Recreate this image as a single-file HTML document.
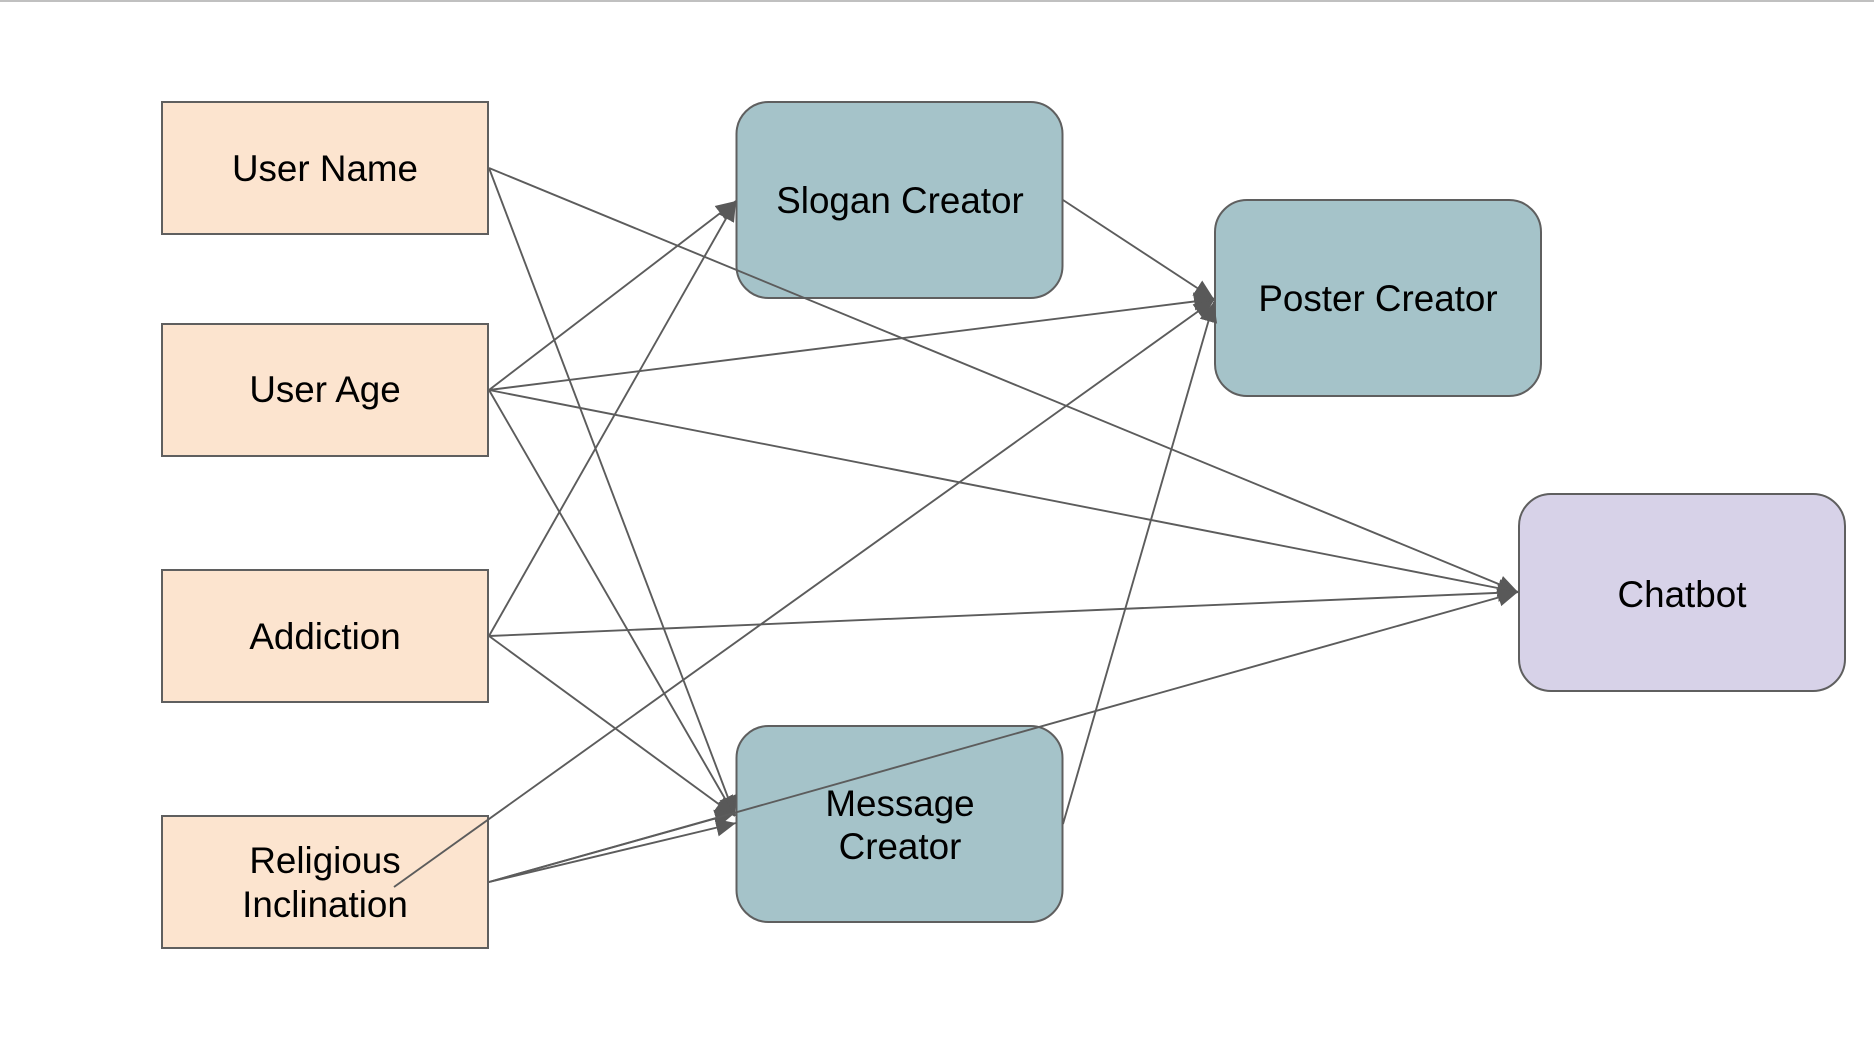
<!DOCTYPE html>
<html>
<head>
<meta charset="utf-8">
<style>
html,body{margin:0;padding:0;background:#fff;width:1874px;height:1058px;overflow:hidden}
svg{display:block}
text{font-family:"Liberation Sans",Arial,sans-serif;font-size:36.8px;fill:#000;text-anchor:middle}
.o{fill:#fce4cf;stroke:#5f5f5f;stroke-width:2}
.t{fill:#a5c3c9;stroke:#5f5f5f;stroke-width:2}
.p{fill:#d7d2e8;stroke:#5f5f5f;stroke-width:2}
line{stroke:#5c5c5c;stroke-width:1.9;fill:none}
line.a{marker-end:url(#ah)}
</style>
</head>
<body>
<svg width="1874" height="1058" viewBox="0 0 1874 1058" xmlns="http://www.w3.org/2000/svg">
<defs>
<marker id="ah" markerUnits="userSpaceOnUse" markerWidth="22" markerHeight="22" refX="20" refY="11" orient="auto">
<path d="M0 2 L20 11 L0 20 Z" fill="#595959"/>
</marker>
</defs>
<rect x="0" y="0" width="1874" height="2" fill="#c0c0c0"/>

<rect class="o" x="162" y="102" width="326" height="132"/>
<rect class="o" x="162" y="324" width="326" height="132"/>
<rect class="o" x="162" y="570" width="326" height="132"/>
<rect class="o" x="162" y="816" width="326" height="132"/>
<rect class="t" x="736.5" y="102" width="326" height="196" rx="32" ry="32"/>
<rect class="t" x="736.5" y="726" width="326" height="196" rx="32" ry="32"/>
<rect class="t" x="1215" y="200" width="326" height="196" rx="32" ry="32"/>
<rect class="p" x="1519" y="494" width="326" height="197" rx="32" ry="32"/>

<text x="325" y="181">User Name</text>
<text x="325" y="402">User Age</text>
<text x="325" y="649">Addiction</text>
<text x="325" y="873">Religious</text>
<text x="325" y="917">Inclination</text>
<text x="900" y="213">Slogan Creator</text>
<text x="900" y="816">Message</text>
<text x="900" y="859">Creator</text>
<text x="1378" y="311">Poster Creator</text>
<text x="1682" y="607">Chatbot</text>

<line class="a" x1="489" y1="168" x2="1518" y2="592"/>
<line class="a" x1="489" y1="168" x2="735" y2="816"/>
<line class="a" x1="489" y1="390" x2="736" y2="201"/>
<line class="a" x1="489" y1="390" x2="1214" y2="299"/>
<line class="a" x1="489" y1="390" x2="1518" y2="592"/>
<line class="a" x1="489" y1="390" x2="735" y2="816"/>
<line class="a" x1="489" y1="636" x2="736" y2="201"/>
<line class="a" x1="489" y1="636" x2="1518" y2="592"/>
<line class="a" x1="489" y1="636" x2="735" y2="816"/>
<line class="a" x1="489" y1="882" x2="736" y2="823"/>
<line class="a" x1="489" y1="882" x2="735" y2="813"/>
<line class="a" x1="489" y1="882" x2="1518" y2="592"/>
<line class="a" x1="394" y1="887" x2="1214" y2="300"/>
<line class="a" x1="1063" y1="200" x2="1214" y2="299"/>
<line class="a" x1="1063" y1="824" x2="1214" y2="302"/>
</svg>
</body>
</html>
